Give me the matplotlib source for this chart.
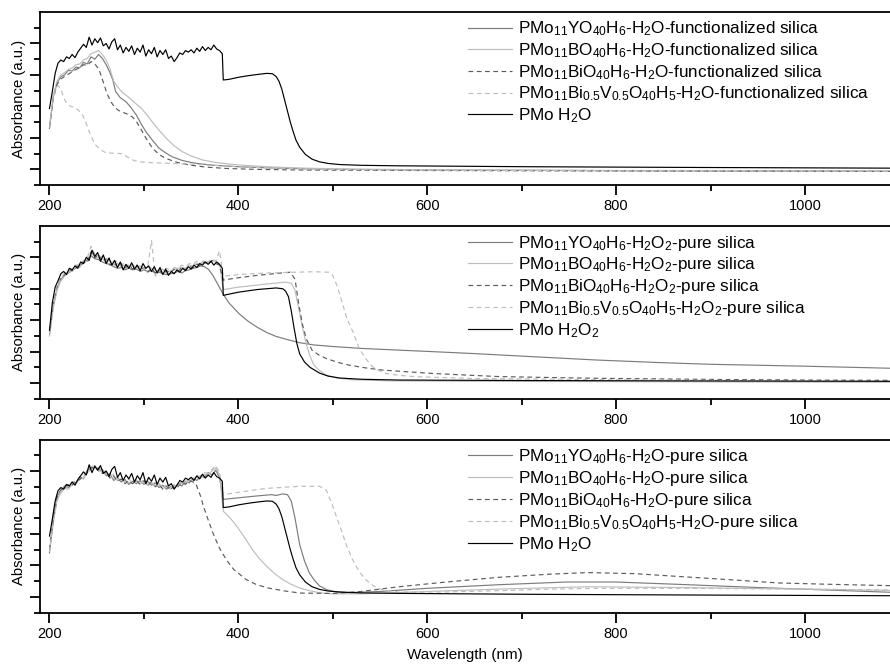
import matplotlib
matplotlib.use('Agg')
import matplotlib.pyplot as plt

plt.rcParams['font.family'] = ['Liberation Sans', 'DejaVu Sans']
plt.rcParams['mathtext.fontset'] = 'custom'
plt.rcParams['mathtext.rm'] = 'Liberation Sans'
plt.rcParams['mathtext.it'] = 'Liberation Sans:italic'
plt.rcParams['mathtext.bf'] = 'Liberation Sans:bold'

# sampling wavelengths (nm) of the noisy UV part
wl_3nm = list(range(200, 384, 3))   # black curves
wl_4nm = list(range(200, 384, 4))   # grey curves

# ---- PMo H2O (panel 1 and 3) ----
pmo_h2o_head = [4.87, 5.95, 7.1, 7.75, 7.95, 7.85, 8.15, 8.05, 8.3, 8.1,
                8.45, 8.7, 8.95, 8.75, 9.4, 8.9, 9.3, 9.05, 9.35, 8.85,
                9.0, 8.65, 9.1, 9.3, 8.6, 8.9, 8.4, 8.75, 8.5, 8.85,
                8.3, 8.7, 8.45, 8.9, 8.2, 8.6, 8.35, 8.75, 8.15, 8.55,
                8.3, 8.6, 8.05, 8.2, 7.85, 8.1, 8.4, 8.3, 8.55, 8.45,
                8.6, 8.4, 8.7, 8.5, 8.8, 8.55, 8.75, 8.6, 8.9, 8.65,
                8.55, 8.35]
pmo_h2o_tail_wl = [384, 390, 400, 410, 420, 430, 436, 440, 443, 446, 449, 452, 455,
                   458, 461, 465, 471, 478, 486, 495, 507, 530, 567, 708, 900, 1090]
pmo_h2o_tail = [6.68, 6.72, 6.85, 6.95, 7.03, 7.1, 7.08, 6.9, 6.6, 6.1, 5.4, 4.7, 4.0,
                3.4, 2.86, 2.4, 1.95, 1.65, 1.48, 1.38, 1.31, 1.26, 1.23, 1.17, 1.12, 1.08]

# ---- PMo H2O2 (panel 2) ----
pmo_h2o2_head = [4.36, 6.1, 7.1, 7.5, 7.95, 8.1, 7.9, 8.3, 8.2, 8.45,
                 8.3, 8.7, 8.6, 9.0, 8.8, 9.45, 9.05, 9.3, 8.75, 9.15,
                 8.6, 8.95, 8.5, 8.8, 8.35, 8.7, 8.2, 8.55, 8.3, 8.65,
                 8.25, 8.5, 8.15, 8.6, 8.3, 8.45, 8.1, 8.4, 8.0, 8.35,
                 7.9, 8.25, 7.85, 8.1, 7.95, 8.2, 8.05, 8.3, 8.15, 8.4,
                 8.25, 8.5, 8.35, 8.6, 8.5, 8.7, 8.55, 8.75, 8.5, 8.7,
                 8.55, 8.3]
pmo_h2o2_tail_wl = [384, 400, 420, 440, 447, 450, 453, 456, 459, 462, 465, 470, 476,
                    486, 495, 507, 530, 570, 700, 900, 1090]
pmo_h2o2_tail = [6.58, 6.78, 6.95, 7.05, 7.0, 6.85, 6.5, 5.6, 4.5, 3.5, 2.85, 2.35, 2.0,
                 1.64, 1.45, 1.33, 1.25, 1.2, 1.17, 1.14, 1.12]

# ---- panel 1: functionalized silica, H2O ----
y1_head = [3.6, 5.6, 6.5, 6.9, 7.0, 7.3, 7.25, 7.5, 7.45, 7.8, 7.7, 8.15, 8.0, 8.3, 8.05, 7.65, 7.15]
y1_tail_wl = [267, 270, 275, 281, 286, 292, 297, 302, 309, 316, 323, 330, 340, 350, 360,
              375, 400, 430, 470, 520, 600, 800, 1090]
y1_tail = [6.7, 5.95, 5.55, 5.3, 4.95, 4.45, 3.9, 3.4, 2.85, 2.35, 2.05, 1.8, 1.58, 1.44, 1.35,
           1.26, 1.17, 1.1, 1.04, 1.0, 0.96, 0.92, 0.88]

b1_head = [3.7, 5.7, 6.6, 7.0, 7.15, 7.35, 7.45, 7.65, 7.7, 7.95, 8.05, 8.35, 8.45, 8.55, 8.3, 7.95, 7.4]
b1_tail_wl = [268, 272, 277, 283, 290, 297, 304, 311, 318, 325, 332, 340, 350, 362, 375,
              390, 401, 430, 470, 520, 600, 800, 1090]
b1_tail = [6.6, 6.25, 5.9, 5.62, 5.25, 4.9, 4.4, 3.85, 3.35, 2.9, 2.5, 2.15, 1.85, 1.6, 1.45,
           1.34, 1.28, 1.17, 1.08, 1.02, 0.98, 0.93, 0.9]

bi1_head = [3.7, 5.5, 6.4, 6.75, 6.9, 7.05, 7.2, 7.35, 7.45, 7.65, 7.6, 7.85, 7.7, 7.4]
bi1_tail_wl = [255, 258, 261, 265, 269, 273, 278, 283, 288, 292, 296, 302, 309, 316, 323,
               335, 348, 365, 387, 420, 470, 600, 800, 1090]
bi1_tail = [6.9, 6.35, 5.8, 5.3, 4.95, 4.75, 4.62, 4.5, 4.32, 4.05, 3.65, 3.0, 2.35, 1.95, 1.7,
            1.45, 1.28, 1.15, 1.06, 1.0, 0.96, 0.93, 0.9, 0.87]

biv1_wl = [200, 203, 206, 209, 212, 214, 216, 218, 221, 225, 230, 235, 238, 242, 246, 249,
           254, 260, 270, 277, 281, 285, 290, 295, 310, 330, 350, 366, 385, 401, 450, 500,
           600, 800, 1090]
biv1 = [3.7, 5.2, 6.0, 6.35, 6.1, 5.75, 5.45, 5.2, 5.05, 4.95, 4.8, 4.45, 4.05, 3.4, 2.85, 2.55,
        2.25, 2.05, 2.02, 2.0, 1.85, 1.7, 1.55, 1.48, 1.42, 1.38, 1.33, 1.28, 1.22, 1.17, 1.06, 1.0,
        0.95, 0.91, 0.88]

# ---- panel 2: pure silica, H2O2 ----
y2_head = [4.1, 5.9, 7.0, 7.6, 7.85, 8.0, 8.2, 8.3, 8.5, 8.6, 8.85, 9.1, 8.9, 8.85, 8.7, 8.6,
           8.55, 8.4, 8.3, 8.35, 8.2, 8.3, 8.2, 8.25, 8.1, 8.2, 8.1, 8.15, 8.0, 8.05, 7.95, 7.9,
           7.95, 8.0, 8.1, 8.0, 8.15, 8.2, 8.3, 8.35, 8.45, 8.4]
y2_tail_wl = [368, 373, 378, 384, 390, 401, 410, 420, 430, 440, 450, 465, 480, 500, 530, 570,
              600, 650, 700, 780, 850, 900, 1000, 1090]
y2_tail = [8.25, 7.85, 7.3, 6.65, 6.1, 5.4, 4.95, 4.55, 4.22, 3.97, 3.8, 3.57, 3.43, 3.33, 3.21,
           3.1, 3.02, 2.88, 2.72, 2.47, 2.3, 2.2, 2.08, 1.95]

b2_head = [4.0, 5.8, 6.9, 7.5, 7.8, 8.05, 8.1, 8.4, 8.35, 8.7, 8.75, 9.3, 9.0, 8.95, 8.9, 8.65,
           8.8, 8.5, 8.6, 8.4, 8.5, 8.35, 8.55, 8.3, 8.45, 8.2, 8.4, 8.3, 8.2, 8.1, 8.25, 8.0,
           8.15, 8.2, 8.3, 8.35, 8.3, 8.5, 8.45, 8.6, 8.55, 8.7, 8.65, 8.8, 8.7, 8.6]
b2_tail_wl = [384, 400, 430, 450, 456, 460, 464, 468, 472, 476, 480, 486, 493, 505, 520, 560,
              650, 800, 1000, 1090]
b2_tail = [6.95, 7.1, 7.3, 7.42, 7.35, 6.9, 5.7, 4.5, 3.45, 2.7, 2.15, 1.8, 1.52, 1.32, 1.22,
           1.15, 1.12, 1.1, 1.07, 1.06]

bi2_head = [4.3, 6.0, 7.1, 7.7, 7.9, 8.2, 8.15, 8.45, 8.4, 8.7, 8.65, 9.35, 8.95, 9.2, 8.75, 8.9,
            8.5, 8.7, 8.35, 8.6, 8.3, 8.55, 8.25, 8.5, 8.2, 8.35, 8.05, 8.3, 8.0, 8.2, 7.95, 8.15,
            8.0, 8.25, 8.1, 8.35, 8.2, 8.45, 8.3, 8.55, 8.45, 8.7, 8.55, 8.8, 8.6, 8.5]
bi2_tail_wl = [384, 400, 420, 440, 455, 460, 464, 468, 472, 478, 485, 493, 505, 517, 535, 553,
               580, 605, 640, 676, 730, 782, 900, 1000, 1090]
bi2_tail = [7.55, 7.7, 7.85, 7.97, 8.05, 7.6, 6.0, 4.7, 3.8, 3.1, 2.8, 2.57, 2.33, 2.15, 1.97,
            1.83, 1.72, 1.62, 1.52, 1.42, 1.36, 1.31, 1.24, 1.2, 1.18]

biv2_head = [4.2, 5.9, 7.0, 7.7, 8.0, 8.1, 8.35, 8.5, 8.55, 8.8, 8.95, 9.7, 9.2, 9.1, 9.0, 8.85,
             8.95, 8.7, 8.75, 8.55, 8.6, 8.4, 8.5, 8.35, 8.45, 8.3, 8.4, 10.05, 7.8, 8.2, 8.15, 8.3,
             8.2, 8.35, 8.3, 8.5, 8.4, 8.6, 8.55, 8.75, 8.6, 8.85, 8.7, 8.9, 8.75, 9.4]
biv2_tail_wl = [384, 400, 430, 460, 480, 496, 500, 505, 510, 515, 521, 528, 535, 542, 549, 556,
                570, 588, 650, 800, 1000, 1090]
biv2_tail = [7.8, 7.9, 8.0, 8.05, 8.08, 8.05, 7.85, 7.1, 6.1, 5.1, 4.3, 3.2, 2.55, 2.05, 1.8,
             1.62, 1.5, 1.41, 1.3, 1.22, 1.15, 1.12]

# ---- panel 3: pure silica, H2O ----
y3_head = [3.8, 6.0, 7.4, 7.75, 8.05, 7.95, 8.3, 8.25, 8.65, 8.5, 9.05, 9.15, 9.35, 9.0, 9.1, 8.7,
           8.85, 8.4, 8.6, 8.3, 8.45, 8.15, 8.35, 8.2, 8.4, 8.15, 8.35, 8.1, 8.25, 7.95, 8.1, 7.85,
           8.0, 7.9, 8.2, 8.05, 8.35, 8.25, 8.55, 8.4, 8.7, 8.6, 8.9, 8.75, 9.05, 8.6]
y3_tail_wl = [384, 400, 420, 435, 440, 447, 452, 456, 460, 465, 470, 475, 480, 486, 493, 500,
              517, 550, 600, 676, 747, 800, 867, 950, 1090]
y3_tail = [7.2, 7.3, 7.42, 7.5, 7.45, 7.55, 7.5, 7.1, 6.0, 4.3, 3.3, 2.55, 2.1, 1.7, 1.48, 1.36,
           1.28, 1.35, 1.55, 1.78, 1.95, 1.95, 1.8, 1.6, 1.3]

b3_head = [3.9, 5.7, 7.2, 7.6, 7.9, 7.85, 8.15, 8.2, 8.5, 8.55, 8.9, 9.1, 9.3, 9.05, 8.95, 8.8,
           8.6, 8.55, 8.4, 8.45, 8.25, 8.3, 8.2, 8.35, 8.2, 8.3, 8.1, 8.25, 8.05, 8.15, 7.9, 8.0,
           7.85, 8.05, 8.05, 8.25, 8.2, 8.45, 8.35, 8.65, 8.55, 8.8, 8.75, 9.0, 9.2, 8.8]
b3_tail_wl = [384, 390, 395, 401, 408, 415, 422, 430, 438, 447, 456, 465, 475, 486, 500, 530,
              600, 676, 770, 870, 1000, 1090]
b3_tail = [6.45, 6.1, 5.75, 5.27, 4.65, 4.0, 3.45, 2.95, 2.5, 2.1, 1.8, 1.57, 1.4, 1.27, 1.2, 1.2,
           1.35, 1.5, 1.65, 1.6, 1.5, 1.42]

bi3_head = [4.0, 5.9, 7.3, 7.8, 7.95, 8.15, 8.1, 8.4, 8.45, 8.75, 8.9, 9.25, 9.1, 9.2, 8.85, 8.95,
            8.55, 8.7, 8.35, 8.5, 8.2, 8.4, 8.2, 8.4, 8.15, 8.4, 8.1, 8.3, 8.0, 8.15, 7.85, 8.05,
            7.8, 8.1, 8.0, 8.3, 8.15, 8.4, 8.3]
bi3_tail_wl = [355, 360, 363, 368, 373, 380, 387, 395, 408, 418, 430, 447, 465, 500, 530, 570,
               620, 676, 730, 770, 820, 867, 920, 972, 1030, 1090]
bi3_tail = [8.2, 7.4, 6.76, 5.9, 5.07, 4.1, 3.39, 2.75, 2.12, 1.82, 1.59, 1.4, 1.25, 1.22, 1.35,
            1.65, 1.95, 2.25, 2.45, 2.55, 2.48, 2.3, 2.1, 1.89, 1.8, 1.72]

biv3_head = [3.9, 5.8, 7.1, 7.7, 8.0, 8.0, 8.3, 8.3, 8.6, 8.65, 9.0, 9.45, 9.2, 9.3, 8.95, 9.0,
             8.65, 8.8, 8.45, 8.55, 8.3, 8.5, 8.25, 8.45, 8.2, 8.45, 8.15, 8.3, 8.05, 8.2, 7.95, 8.1,
             7.9, 8.15, 8.1, 8.35, 8.3, 8.5, 8.45, 8.7, 8.65, 8.9, 8.85, 9.1, 9.35, 8.9]
biv3_tail_wl = [384, 400, 430, 465, 486, 493, 500, 505, 510, 515, 521, 528, 535, 543, 552, 570,
                620, 676, 730, 782, 870, 1000, 1090]
biv3_tail = [7.5, 7.65, 7.9, 8.03, 8.03, 7.8, 6.76, 5.9, 5.07, 4.2, 3.37, 2.6, 2.1, 1.7, 1.46,
             1.3, 1.32, 1.4, 1.5, 1.55, 1.55, 1.5, 1.45]

labels_1 = [r'PMo$_{11}$YO$_{40}$H$_6$-H$_2$O-functionalized silica',
            r'PMo$_{11}$BO$_{40}$H$_6$-H$_2$O-functionalized silica',
            r'PMo$_{11}$BiO$_{40}$H$_6$-H$_2$O-functionalized silica',
            r'PMo$_{11}$Bi$_{0.5}$V$_{0.5}$O$_{40}$H$_5$-H$_2$O-functionalized silica',
            r'PMo H$_2$O']
labels_2 = [r'PMo$_{11}$YO$_{40}$H$_6$-H$_2$O$_2$-pure silica',
            r'PMo$_{11}$BO$_{40}$H$_6$-H$_2$O$_2$-pure silica',
            r'PMo$_{11}$BiO$_{40}$H$_6$-H$_2$O$_2$-pure silica',
            r'PMo$_{11}$Bi$_{0.5}$V$_{0.5}$O$_{40}$H$_5$-H$_2$O$_2$-pure silica',
            r'PMo H$_2$O$_2$']
labels_3 = [r'PMo$_{11}$YO$_{40}$H$_6$-H$_2$O-pure silica',
            r'PMo$_{11}$BO$_{40}$H$_6$-H$_2$O-pure silica',
            r'PMo$_{11}$BiO$_{40}$H$_6$-H$_2$O-pure silica',
            r'PMo$_{11}$Bi$_{0.5}$V$_{0.5}$O$_{40}$H$_5$-H$_2$O-pure silica',
            r'PMo H$_2$O']

styles = [dict(color='#7c7c7c', ls='-'),
          dict(color='#bdbdbd', ls='-'),
          dict(color='#5c5c5c', ls=(0, (4, 3))),
          dict(color='#bdbdbd', ls=(0, (4, 3))),
          dict(color='black', ls='-')]


def join(grid, head, tail_wl, tail):
    return list(grid[:len(head)]) + tail_wl, head + tail


panels = [
    [join(wl_4nm, y1_head, y1_tail_wl, y1_tail),
     join(wl_4nm, b1_head, b1_tail_wl, b1_tail),
     join(wl_4nm, bi1_head, bi1_tail_wl, bi1_tail),
     (biv1_wl, biv1),
     join(wl_3nm, pmo_h2o_head, pmo_h2o_tail_wl, pmo_h2o_tail)],
    [join(wl_4nm, y2_head, y2_tail_wl, y2_tail),
     join(wl_4nm, b2_head, b2_tail_wl, b2_tail),
     join(wl_4nm, bi2_head, bi2_tail_wl, bi2_tail),
     join(wl_4nm, biv2_head, biv2_tail_wl, biv2_tail),
     join(wl_3nm, pmo_h2o2_head, pmo_h2o2_tail_wl, pmo_h2o2_tail)],
    [join(wl_4nm, y3_head, y3_tail_wl, y3_tail),
     join(wl_4nm, b3_head, b3_tail_wl, b3_tail),
     join(wl_4nm, bi3_head, bi3_tail_wl, bi3_tail),
     join(wl_4nm, biv3_head, biv3_tail_wl, biv3_tail),
     join(wl_3nm, pmo_h2o_head, pmo_h2o_tail_wl, pmo_h2o_tail)],
]
all_labels = [labels_1, labels_2, labels_3]

fig = plt.figure(figsize=(8.9, 6.66), dpi=100)
bottoms = [0.722, 0.401, 0.080]

for k in range(3):
    ax = fig.add_axes([0.045, bottoms[k], 0.955, 0.26])
    for (wl, ab), lab, st in zip(panels[k], all_labels[k], styles):
        ax.plot(wl, ab, lw=0.85, label=lab, **st)

    ax.set_xlim(190, 1090)
    ax.set_ylim(0, 11)
    ax.set_xticks([200, 400, 600, 800, 1000])
    ax.set_xticks([300, 500, 700, 900], minor=True)
    ax.set_yticks([1, 3, 5, 7, 9])
    ax.set_yticks([0, 2, 4, 6, 8, 10], minor=True)
    ax.set_yticklabels([])
    ax.tick_params(which='major', length=7.5, width=1.3, direction='out', labelsize=10.5, pad=2.5)
    ax.tick_params(which='minor', length=4.5, width=1.3, direction='out')
    ax.spines['right'].set_visible(False)
    for s in ['left', 'top', 'bottom']:
        ax.spines[s].set_linewidth(1.3)

    ax.set_ylabel('Absorbance (a.u.)', fontsize=10.7)
    ax.yaxis.set_label_coords(-0.0165, 0.5)

    ax.legend(loc='upper left', bbox_to_anchor=(0.504, 0.955), frameon=False,
              fontsize=12.3, borderpad=0, borderaxespad=0, handlelength=2.55,
              handletextpad=0.33, labelspacing=0.17)

ax.set_xlabel('Wavelength (nm)', fontsize=11, labelpad=5)

fig.savefig('out.png', dpi=100)
